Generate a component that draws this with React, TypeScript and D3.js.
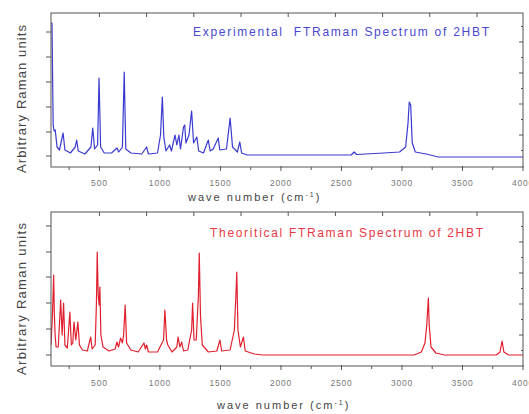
import React from "react";
import * as d3 from "d3";

// ---- data ----
const expWave = [100, 108, 118, 125, 135, 150, 170, 200, 215, 260, 300, 312, 325, 380, 430, 445, 460, 485, 497, 510, 540, 600, 645, 660, 690, 705, 718, 760, 850, 890, 905, 980, 1005, 1020, 1032, 1050, 1080, 1095, 1125, 1140, 1157, 1170, 1195, 1205, 1215, 1240, 1262, 1278, 1305, 1320, 1360, 1400, 1415, 1440, 1482, 1495, 1550, 1580, 1600, 1640, 1660, 1675, 1720, 2500, 2580, 2605, 2625, 2700, 2850, 2980, 3030, 3050, 3060, 3072, 3085, 3110, 3200, 3300, 4000];
const expInt = [132, 132, 30, 24, 25, 8, 5, 22, 5, 2, 8, 15, 4, 1, 8, 27, 6, 10, 77, 8, 2, 2, 7, 3, 8, 83, 6, 2, 1, 8, 1, 2, 20, 58, 18, 4, 10, 4, 20, 10, 20, 6, 28, 30, 12, 20, 44, 12, 18, 4, 2, 15, 4, 6, 17, 5, 6, 37, 8, 3, 13, 2, 0, 0, 0, 3, 0.5, 1, 2, 3, 8, 32, 53, 50, 12, 3, 1, -2, -2];

const theoWave = [100, 112, 122, 128, 134, 142, 160, 180, 192, 204, 215, 235, 256, 268, 280, 290, 305, 322, 335, 360, 400, 428, 440, 465, 475, 482, 490, 498, 504, 512, 530, 580, 630, 645, 658, 675, 690, 700, 713, 725, 760, 820, 868, 880, 890, 905, 980, 1030, 1041, 1055, 1065, 1100, 1140, 1150, 1165, 1180, 1195, 1230, 1262, 1270, 1282, 1300, 1318, 1325, 1335, 1350, 1400, 1470, 1496, 1510, 1580, 1615, 1628, 1635, 1645, 1665, 1690, 1705, 1780, 1850, 3100, 3160, 3190, 3205, 3212, 3218, 3225, 3240, 3280, 3350, 3780, 3810, 3827, 3842, 3880, 4000];
const theoInt = [10, 40, 80, 40, 20, 8, 8, 55, 20, 52, 10, 7, 43, 10, 12, 33, 15, 33, 10, 5, 4, 18, 6, 10, 50, 103, 60, 50, 68, 20, 8, 4, 6, 13, 8, 17, 12, 20, 50, 12, 5, 3, 12, 6, 10, 3, 3, 15, 45, 15, 10, 3, 8, 18, 8, 13, 4, 5, 25, 52, 15, 15, 60, 102, 40, 10, 3, 4, 15, 4, 5, 25, 60, 83, 25, 8, 18, 4, 1, 0, 0, 3, 12, 30, 45, 57, 30, 8, 2, 0, 0, 3, 14, 3, 0, 0];

const xLabelTicks = [500, 1000, 1500, 2000, 2500, 3000, 3500, 4000];
const xMinorTicks = [250, 750, 1250, 1750, 2250, 2750, 3250, 3750];
const xTopTicks = [500, 890, 1280, 1670, 2060, 2450, 2840, 3230, 3620];
const expLeftTicks = [-1, 23, 48, 73, 98, 123];
const theoLeftTicks = [0, 26, 52, 78, 103, 129];
const rightTicks = [20, 51, 82, 113];
const rightMinor = [4.5, 35.5, 66.5, 97.5, 128.5];

const expTitle = "Experimental  FTRaman Spectrum of 2HBT";
const theoTitle = "Theoritical FTRaman Spectrum of 2HBT";
const yTitle = "Arbitrary Raman units";

const W = 529;
const H = 414;
const X0 = 51;
const X1 = 523;

type PanelProps = {
  id: string;
  top: number;
  bottom: number;
  base: number;
  wave: number[];
  inten: number[];
  leftTicks: number[];
  color: string;
  title: string;
  titleColor: string;
  titleX: number;
  titleY: number;
  titleLen: number;
  xTitleX: number;
  xTitleY: number;
  labelY: number;
  yTitleY: number;
  yTitleLen: number;
};

const x = d3.scaleLinear().domain([100, 4000]).range([X0, X1]);

function Panel(p: PanelProps) {
  const y = d3.scaleLinear().domain([0, p.base - p.top]).range([p.base, p.top]);
  const pts: [number, number][] = p.wave.map((w, i) => [w, p.inten[i]]);
  const line = d3
    .line<[number, number]>()
    .x((d) => x(d[0]))
    .y((d) => y(d[1]));
  const axis = "#555";
  return (
    <g>
      <defs>
        <clipPath id={p.id}>
          <rect x={X0} y={p.top} width={X1 - X0} height={p.bottom - p.top} />
        </clipPath>
      </defs>
      <path d={line(pts) || ""} fill="none" stroke={p.color} strokeWidth={1.2} strokeLinejoin="round" clipPath={`url(#${p.id})`} />
      <rect x={X0} y={p.top} width={X1 - X0} height={p.bottom - p.top} fill="none" stroke={axis} strokeWidth={1} />
      {xLabelTicks.map((t) => (
        <line key={"b" + t} x1={x(t)} x2={x(t)} y1={p.bottom - 1} y2={p.bottom + 4} stroke={axis} />
      ))}
      {xMinorTicks.map((t) => (
        <line key={"m" + t} x1={x(t)} x2={x(t)} y1={p.bottom} y2={p.bottom + 3} stroke={axis} />
      ))}
      {xTopTicks.map((t) => (
        <line key={"t" + t} x1={x(t)} x2={x(t)} y1={p.top} y2={p.top + 4} stroke={axis} />
      ))}
      {p.leftTicks.map((t) => (
        <line key={"l" + t} x1={X0 - 5} x2={X0} y1={y(t)} y2={y(t)} stroke={axis} />
      ))}
      {rightTicks.map((t) => (
        <line key={"r" + t} x1={X1 - 4} x2={X1} y1={y(t)} y2={y(t)} stroke={axis} />
      ))}
      {rightMinor.map((t) => (
        <line key={"rm" + t} x1={X1 - 2} x2={X1} y1={y(t)} y2={y(t)} stroke={axis} />
      ))}
      {xLabelTicks.map((t) => (
        <text
          key={"lab" + t}
          x={x(t)}
          y={p.labelY}
          textAnchor="middle"
          fontFamily="Liberation Sans, Arial, sans-serif"
          fontSize={8.5}
          letterSpacing={0.8}
          fill="#777"
        >
          {t}
        </text>
      ))}
      <text
        x={p.titleX}
        y={p.titleY}
        fontFamily="Liberation Sans, Arial, sans-serif"
        fontSize={12}
        fill={p.titleColor}
        textLength={p.titleLen}
        lengthAdjust="spacing"
        style={{ whiteSpace: "pre" }}
      >
        {p.title}
      </text>
      <text
        x={p.xTitleX}
        y={p.xTitleY}
        fontFamily="Liberation Sans, Arial, sans-serif"
        fontSize={11}
        fill="#444"
        letterSpacing={2}
      >
        wave number (cm
        <tspan dy={-4} fontSize={7}>
          -1
        </tspan>
        <tspan dy={4}>)</tspan>
      </text>
      <text
        transform={`translate(26,${p.yTitleY}) rotate(-90)`}
        textAnchor="middle"
        fontFamily="Liberation Sans, Arial, sans-serif"
        fontSize={13}
        fill="#444"
        textLength={p.yTitleLen}
        lengthAdjust="spacing"
      >
        {yTitle}
      </text>
    </g>
  );
}

export default function App() {
  return (
    <div style={{ position: "absolute", left: 0, top: 0 }}>
      <svg width={W} height={H} style={{ display: "block", background: "#fff" }}>
        <Panel
          id="clipTop"
          top={13}
          bottom={167}
          base={155}
          wave={expWave}
          inten={expInt}
          leftTicks={expLeftTicks}
          color="#3a3ad0"
          title={expTitle}
          titleColor="#4848d0"
          titleX={193}
          titleY={36}
          titleLen={296}
          xTitleX={188}
          xTitleY={201}
          labelY={186}
          yTitleY={99}
          yTitleLen={148}
        />
        <Panel
          id="clipBottom"
          top={212}
          bottom={366}
          base={355}
          wave={theoWave}
          inten={theoInt}
          leftTicks={theoLeftTicks}
          color="#e0202e"
          title={theoTitle}
          titleColor="#e83844"
          titleX={210}
          titleY={237}
          titleLen={273}
          xTitleX={217}
          xTitleY={409}
          labelY={386}
          yTitleY={299}
          yTitleLen={152}
        />
      </svg>
    </div>
  );
}
